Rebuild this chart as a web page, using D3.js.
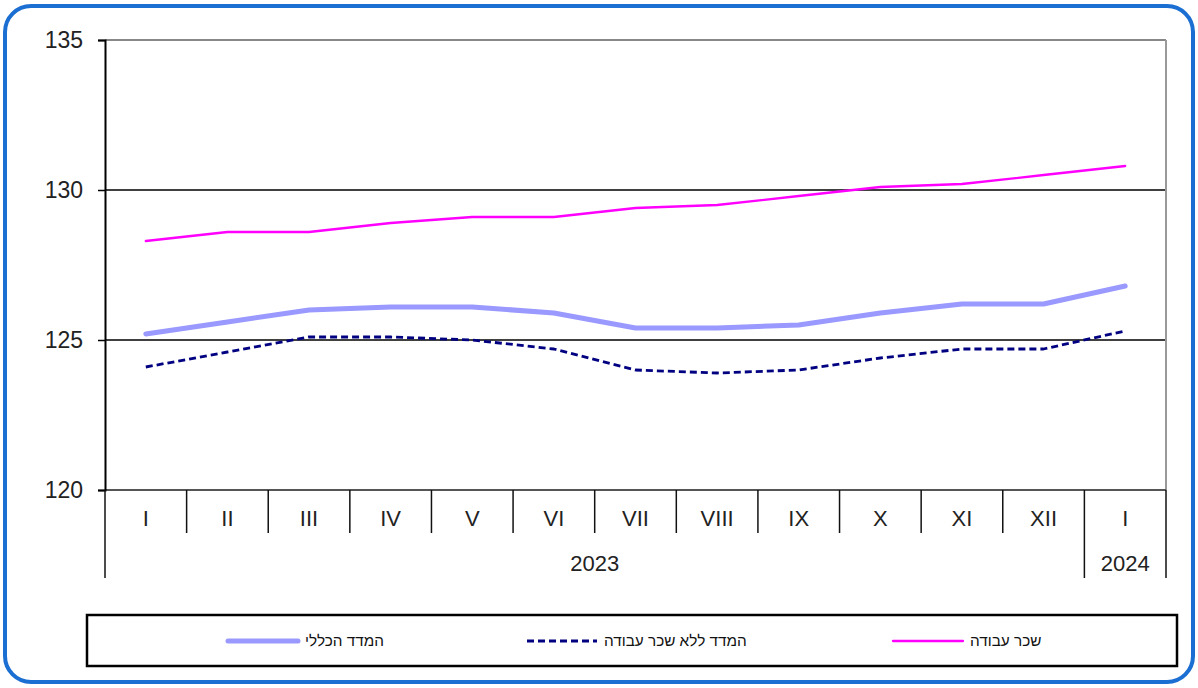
<!DOCTYPE html>
<html><head><meta charset="utf-8">
<script src="https://cdn.jsdelivr.net/npm/d3@7/dist/d3.min.js"></script>
<style>body{margin:0;background:#fff;} svg{display:block;font-family:Arial, "Liberation Sans", sans-serif;}</style>
</head><body>
<svg id="c" width="1198" height="688"></svg>
<script>
const months = ["I","II","III","IV","V","VI","VII","VIII","IX","X","XI","XII","I "];
const years = [{label:"2023", from:0, to:12},{label:"2024", from:12, to:13}];
const general = [125.2,125.6,126.0,126.1,126.1,125.9,125.4,125.4,125.5,125.9,126.2,126.2,126.8];
const noWage = [124.1,124.6,125.1,125.1,125.0,124.7,124.0,123.9,124.0,124.4,124.7,124.7,125.3];
const wage = [128.3,128.6,128.6,128.9,129.1,129.1,129.4,129.5,129.8,130.1,130.2,130.5,130.8];
const yTicks = [120,125,130,135];
const seriesNames = ["המדד הכללי","המדד ללא שכר עבודה","שכר עבודה"];

const svg = d3.select("#c");
const L=105, R=1166, T=40, B=490;
const x = d3.scaleBand().domain(d3.range(months.length)).range([L,R]);
const y = d3.scaleLinear().domain([120,135]).range([B,T]);

// outer frame
svg.append("rect").attr("x",5).attr("y",6).attr("width",1188).attr("height",676)
  .attr("rx",26).attr("fill","none").attr("stroke","#1c6fd2").attr("stroke-width",4);

// gridlines
svg.append("g").selectAll("line").data([125,130]).join("line")
  .attr("x1",L).attr("x2",R).attr("y1",d=>y(d)).attr("y2",d=>y(d))
  .attr("stroke","#000").attr("stroke-width",1.6);
// top and right border
svg.append("line").attr("x1",L).attr("x2",R).attr("y1",y(135)).attr("y2",y(135)).attr("stroke","#888").attr("stroke-width",1.8);
svg.append("line").attr("x1",R).attr("x2",R).attr("y1",T).attr("y2",B).attr("stroke","#999").attr("stroke-width",2);
// bottom axis line
svg.append("line").attr("x1",L).attr("x2",R).attr("y1",B).attr("y2",B).attr("stroke","#555").attr("stroke-width",2);

// y axis
const yAxis = d3.axisLeft(y).tickValues(yTicks).tickSize(7).tickPadding(15).tickFormat(d3.format("d"));
const ya = svg.append("g").attr("transform",`translate(${L},0)`).call(yAxis);
ya.select(".domain").attr("stroke","#000").attr("stroke-width",2);
ya.selectAll(".tick line").attr("stroke","#000").attr("stroke-width",1.5);
ya.selectAll(".tick text").attr("font-size",23).attr("fill","#222").attr("font-family","Arial, 'Liberation Sans', sans-serif");

// category separators
const bounds = d3.range(months.length+1).map(i=> i<months.length ? x(i) : R);
svg.append("g").selectAll("line").data(bounds).join("line")
  .attr("x1",d=>d).attr("x2",d=>d).attr("y1",B)
  .attr("y2",(d,i)=> (i===0||i===12||i===13)?578:533)
  .attr("stroke","#111").attr("stroke-width",1.5);

svg.append("g").selectAll("text").data(months).join("text")
  .attr("x",(d,i)=>x(i)+x.bandwidth()/2).attr("y",526)
  .attr("text-anchor","middle").attr("font-size",22).attr("fill","#222").text(d=>d.trim());

svg.append("g").selectAll("text").data(years).join("text")
  .attr("x",d=>(x(d.from)+(d.to<months.length?x(d.to):R))/2).attr("y",571)
  .attr("text-anchor","middle").attr("font-size",22).attr("fill","#222").text(d=>d.label);

// lines
const line = d3.line().x((d,i)=>x(i)+x.bandwidth()/2).y(d=>y(d));
const styles = [
  {data:general, color:"#9999ff", w:5, dash:null},
  {data:noWage, color:"#000080", w:2.8, dash:"7,4"},
  {data:wage, color:"#ff00ff", w:2.3, dash:null}
];
svg.append("g").selectAll("path").data(styles).join("path")
  .attr("d",d=>line(d.data)).attr("fill","none").attr("stroke",d=>d.color)
  .attr("stroke-width",d=>d.w).attr("stroke-dasharray",d=>d.dash)
  .attr("stroke-linecap",d=>d.dash?"butt":"round").attr("stroke-linejoin","round");

// legend
svg.append("rect").attr("x",87).attr("y",615).attr("width",1090).attr("height",51)
  .attr("fill","none").attr("stroke","#000").attr("stroke-width",2.5);
const legX = [228,527,893];
const lg = svg.append("g").selectAll("g").data(styles).join("g")
  .attr("transform",(d,i)=>`translate(${legX[i]},641)`);
lg.append("line").attr("x1",0).attr("x2",70).attr("y1",0).attr("y2",0)
  .attr("stroke",d=>d.color).attr("stroke-width",d=>d.w).attr("stroke-dasharray",d=>d.dash)
  .attr("stroke-linecap",d=>d.dash?"butt":"round");
lg.append("text").attr("x",77).attr("y",5).attr("font-size",15.3).attr("fill","#111")
  .attr("text-anchor","start").text((d,i)=>seriesNames[i]);
</script>
</body></html>
